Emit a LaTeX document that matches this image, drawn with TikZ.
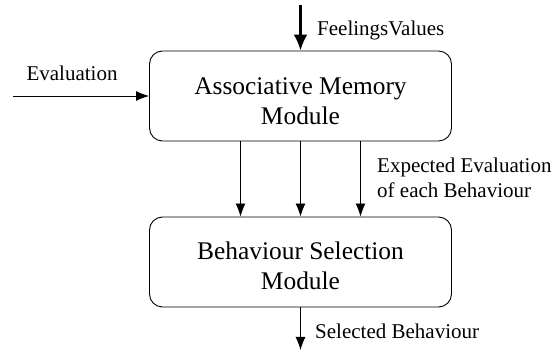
\documentclass[tikz,border=0pt]{standalone}
\usepackage{fontspec}
\setmainfont{Liberation Serif}
\usepackage{tikz}
\usetikzlibrary{calc,arrows.meta,positioning}

\begin{document}
\begin{tikzpicture}[x=1pt,y=1pt]

\tikzset{module/.style={draw, rounded corners=13pt, line width=0.9pt, minimum width=302pt, minimum height=90pt, align=center, font=\fontsize{25.4}{29.5}\selectfont},
flow/.style={line width=0.9pt, -{Latex[length=13pt,width=10pt]}},
bigflow/.style={line width=2.6pt, -{Latex[length=16pt,width=14pt]}},
lbl/.style={font=\fontsize{21}{25}\selectfont, align=left, inner sep=0pt}}

\useasboundingbox (0,0) rectangle (555,356);

%text sits a little low in the boxes
\node[module] (assoc) at (300.5,260) {\rule{0pt}{27pt}Associative Memory\\Module};
\node[module] (select) at (300.5,94) {\rule{0pt}{25pt}Behaviour Selection\\Module};

%inputs
\coordinate (evalin) at (13,260);
\coordinate (feelin) at (300.5,351);
\draw[flow] (evalin) -- (assoc.west);
\draw[bigflow] (feelin) -- (assoc.north);

\node[lbl] (evallbl) at (72,283) {Evaluation};
\node[lbl, anchor=west] (feellbl) at (317,326) {FeelingsValues};

%expected evaluation arrows
\foreach \dx in {-60,0,60}
  \draw[flow] ($(assoc.south)+(\dx,0)$) -- ($(select.north)+(\dx,0)$);

\node[lbl, anchor=west] (explbl) at (377,178.5) {Expected Evaluation\\of each Behaviour};

%output
\coordinate (out) at (300.5,6);
\draw[flow] (select.south) -- (out);
\node[lbl, anchor=west] (outlbl) at (315,25) {Selected Behaviour};

\end{tikzpicture}
\end{document}
